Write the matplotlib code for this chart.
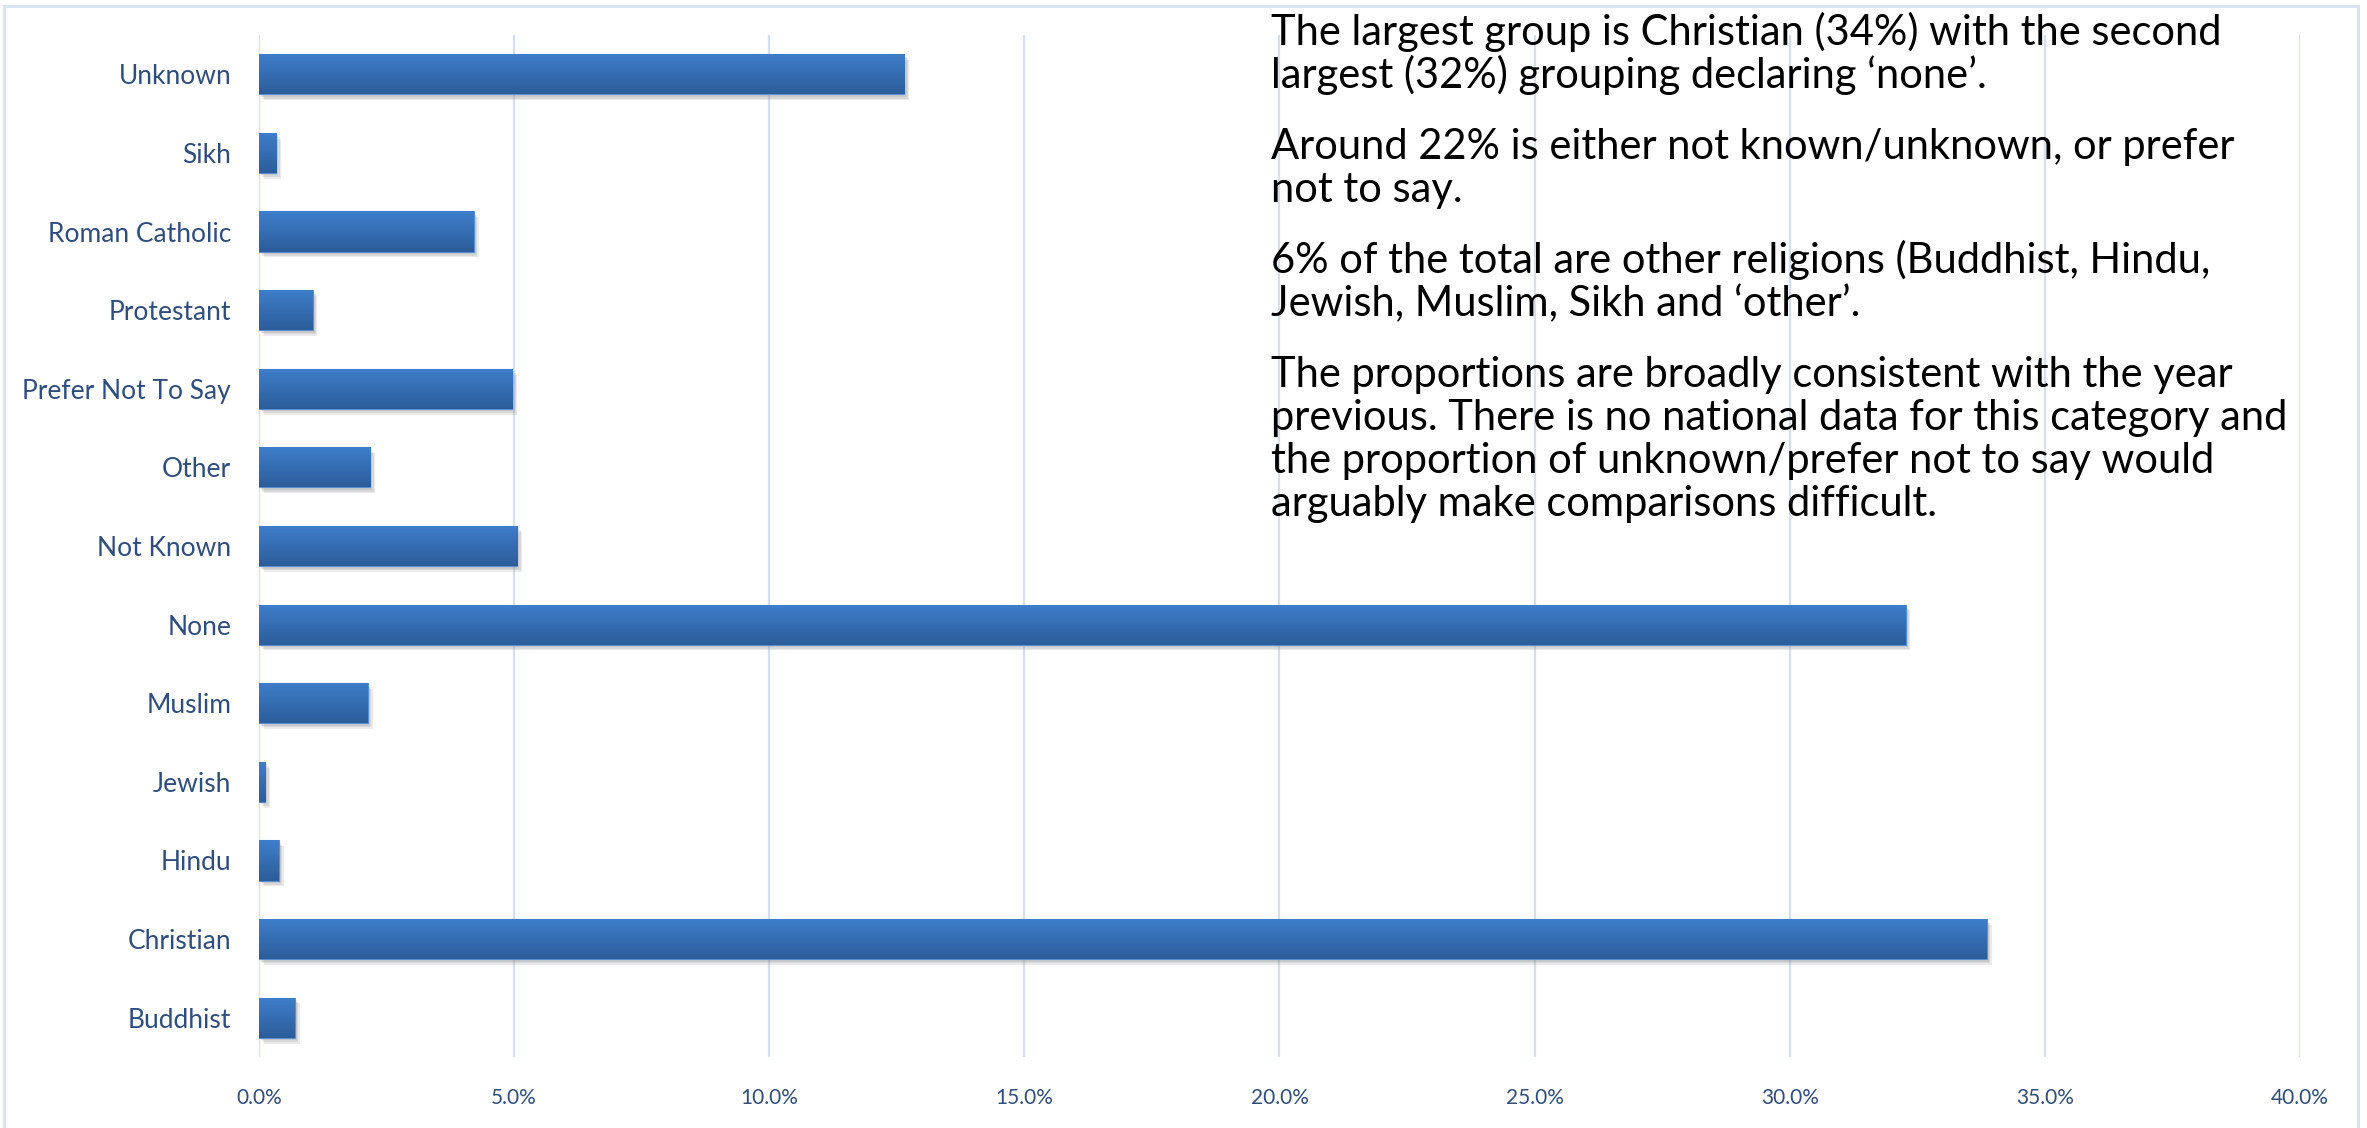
import matplotlib
matplotlib.use("Agg")
import matplotlib.pyplot as plt
import matplotlib.patheffects as pe
from matplotlib.lines import Line2D
from matplotlib.colors import LinearSegmentedColormap
from matplotlib.ticker import FuncFormatter, MultipleLocator
import numpy as np

# religion breakdown, bottom to top as drawn
religions = ["Buddhist", "Christian", "Hindu", "Jewish", "Muslim", "None",
             "Not Known", "Other", "Prefer Not To Say", "Protestant",
             "Roman Catholic", "Sikh", "Unknown"]
shares = [0.70, 33.86, 0.39, 0.12, 2.13, 32.27,
          5.06, 2.18, 4.96, 1.05, 4.21, 0.34, 12.65]

notes = [
    ["The largest group is Christian (34%) with the second",
     "largest (32%) grouping declaring \u2018none\u2019."],
    ["Around 22% is either not known/unknown, or prefer",
     "not to say."],
    ["6% of the total are other religions (Buddhist, Hindu,",
     "Jewish, Muslim, Sikh and \u2018other\u2019."],
    ["The proportions are broadly consistent with the year",
     "previous. There is no national data for this category and",
     "the proportion of unknown/prefer not to say would",
     "arguably make comparisons difficult."],
]

W, H = 2367, 1128
LABEL = "#2F4E7E"
GRID = "#D3E0F1"

plt.rcParams["font.family"] = ["Lato", "DejaVu Sans"]

fig = plt.figure(figsize=(W / 100, H / 100), dpi=100)
ax = fig.add_axes([259 / W, 1 - 1057 / H, (2300 - 259) / W, (1057 - 35) / H])

y = np.arange(len(religions))
shadow = [pe.SimplePatchShadow(offset=(o, -1.2 * o), shadow_rgbFace="#808080", alpha=0.16)
          for o in (1.5, 2.5, 3.5)]
bars = ax.barh(y, shares, height=0.51, color="#3569AE", edgecolor="#5B8FD4",
               linewidth=0.8, zorder=3, path_effects=shadow + [pe.Normal()])

# vertical gradient on each bar, like the office chart fill
grad = np.linspace(0, 1, 64).reshape(-1, 1)
cmap = LinearSegmentedColormap.from_list("barfill", ["#2C5D9A", "#3F7ECB"])
for b in bars:
    x0, y0, w, h = b.get_x(), b.get_y(), b.get_width(), b.get_height()
    im = ax.imshow(grad, cmap=cmap, aspect="auto", origin="lower",
                   extent=[x0, x0 + w, y0, y0 + h], zorder=3.5)
    im.set_clip_path(b)

ax.set_xlim(0, 40)
ax.set_ylim(-0.5, len(religions) - 0.5)
ax.xaxis.set_major_locator(MultipleLocator(5))
ax.xaxis.set_major_formatter(FuncFormatter(lambda v, p: f"{v:.1f}%"))
ax.set_yticks(y)
ax.set_yticklabels(religions)
ax.grid(axis="x", color=GRID, linewidth=1.6, zorder=0)
ax.grid(axis="y", visible=False)
for s in ax.spines.values():
    s.set_visible(False)
ax.tick_params(axis="both", length=0, colors=LABEL)
ax.tick_params(axis="y", labelsize=19, pad=20)
ax.tick_params(axis="x", labelsize=15, pad=22)

# text panel on the right, one line at a time (pixel baselines)
base = 45
line_step = 43
para_gap = 28
for para in notes:
    for line in para:
        fig.text(1271 / W, 1 - base / H, line, fontsize=30, color="black",
                 va="baseline", ha="left")
        base += line_step
    base += para_gap

# outer chart frame
frame = dict(color="#D9E4F2", linewidth=2.2, transform=fig.transFigure)
fig.add_artist(Line2D([4 / W, 4 / W], [0, 1 - 6 / H], **frame))
fig.add_artist(Line2D([4 / W, 2358 / W], [1 - 6 / H, 1 - 6 / H], **frame))
fig.add_artist(Line2D([2358 / W, 2358 / W], [0, 1 - 6 / H], **frame))

fig.savefig("out.png", dpi=100, facecolor="white")
